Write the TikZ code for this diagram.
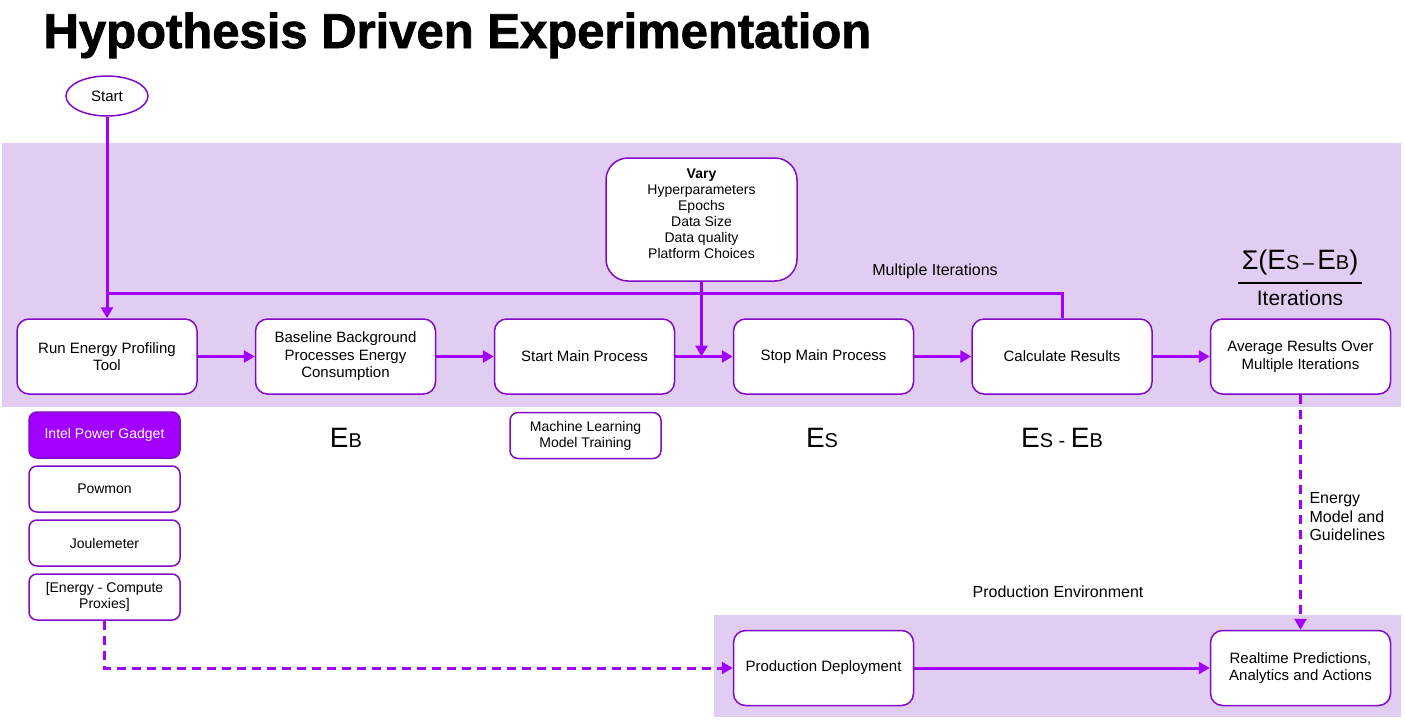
\documentclass[tikz,border=0pt]{standalone}
\usepackage{fontspec}
\setmainfont{Liberation Sans}
\newfontfamily\titlefont{Liberation Sans}[BoldFeatures={FakeBold=1.6}]
\usetikzlibrary{arrows.meta,shapes.geometric}

\definecolor{acpurple}{RGB}{161,0,255}
\definecolor{acborder}{RGB}{128,10,200}
\definecolor{acband}{RGB}{226,205,242}

% big letter with a smaller index on the same baseline
\newcommand{\EIdx}[2]{{\fontsize{28}{30}\selectfont #1}{\fontsize{20}{22}\selectfont #2}}

\begin{document}
\begin{tikzpicture}[x=1pt,y=-1pt,
    box/.style={draw=acborder,line width=1.5pt,fill=white,rounded corners=12pt,
      minimum width=180pt,minimum height=75pt,align=center,
      font=\fontsize{15}{17.5}\selectfont},
    toolbox/.style={box,minimum width=151pt,minimum height=46pt,rounded corners=8pt,
      font=\fontsize{14}{16}\selectfont},
    flow/.style={draw=acpurple,line width=3pt,-{Triangle[length=11pt,width=12pt]}},
    dflow/.style={flow,dash pattern=on 9pt off 6pt},
    lbl/.style={font=\fontsize{16}{18.5}\selectfont}]
    \useasboundingbox (0,0) rectangle (1405,721);

    % bands
    \fill[acband] (2,143) rectangle (1401,407);
    \fill[acband] (714,615) rectangle (1401,717);

    \node[anchor=base west,font=\fontsize{49}{55}\titlefont\bfseries] (title)
      at (40,48) {Hypothesis Driven Experimentation};

    \node[draw=acborder,ellipse,line width=1.5pt,minimum width=82pt,minimum height=40pt,
      font=\fontsize{15}{17}\selectfont] (start) at (107,96) {Start};

    % main row
    \node[box] (run) at (107,356.5) {Run Energy Profiling\\Tool};
    \node[box] (base) at (345.5,356.5) {Baseline Background\\Processes Energy\\Consumption};
    \node[box] (mainon) at (584.5,356.5) {Start Main Process};
    \node[box] (mainoff) at (823.5,356.5) {Stop Main Process};
    \node[box] (calc) at (1062,356.5) {Calculate Results};
    \node[box] (avg) at (1300.5,356.5) {Average Results Over\\Multiple Iterations};

    \node[box,minimum width=191pt,minimum height=123pt,rounded corners=22pt,
      font=\fontsize{14}{16}\selectfont] (vary) at (701.5,219.5)
      {\textbf{Vary}\\Hyperparameters\\Epochs\\Data Size\\Data quality\\Platform Choices\\[-4pt]};

    \node[lbl] (iter) at (935,271) {Multiple Iterations};
    \coordinate (loop) at (107,293);

    % average formula
    \node (num) at (1300,263) {{\fontsize{27}{30}\selectfont Σ(}\EIdx{E}{S}%
      {\fontsize{20}{22}\selectfont\,–\,}\EIdx{E}{B}{\fontsize{27}{30}\selectfont )}};
    \coordinate (fracL) at (1238,283);
    \coordinate (fracR) at (1362,283);
    \draw[line width=1.2pt] (fracL) -- (fracR);
    \node[font=\fontsize{21}{24}\selectfont] (den) at (1300,298) {Iterations};

    % tools
    \node[toolbox,fill=acpurple,text=white] (ipg) at (104.5,435) {Intel Power Gadget};
    \node[toolbox] (powmon) at (104.5,489) {Powmon};
    \node[toolbox] (joule) at (104.5,543) {Joulemeter};
    \node[toolbox] (proxy) at (104.5,597) {[Energy - Compute\\Proxies]};

    \node (eb) at (346,438) {\EIdx{E}{B}};
    \node[toolbox] (mlt) at (585.5,435.5) {Machine Learning\\Model Training};
    \node (es) at (822,438) {\EIdx{E}{S}};
    \node (esb) at (1062,438) {\EIdx{E}{S}{\fontsize{20}{22}\selectfont\ -\ }\EIdx{E}{B}};

    % production
    \node[lbl] (prodenv) at (1058,592) {Production Environment};
    \node[box] (deploy) at (823.5,668) {Production Deployment};
    \node[box] (rt) at (1300.5,668) {Realtime Predictions,\\Analytics and Actions};
    \node[lbl,anchor=north west,align=left] (guide) at (1306,489) {Energy\\Model and\\Guidelines};

    % connectors
    \draw[flow] (start) -- (run);
    \draw[flow] (run) -- (base);
    \draw[flow] (base) -- (mainon);
    \draw[flow] (mainon) -- (mainoff);
    \draw[flow] (vary.south) -- (vary.south |- mainon.east);
    \draw[flow] (calc) -- (avg);
    \draw[flow] (mainoff) -- (calc);
    \draw[draw=acpurple,line width=3pt] (calc.north) |- (loop);
    \draw[flow] (deploy) -- (rt);
    \draw[dflow] (proxy.south) |- (deploy.west);
    \draw[dflow] (avg.south) -- (rt.north);
\end{tikzpicture}
\end{document}
